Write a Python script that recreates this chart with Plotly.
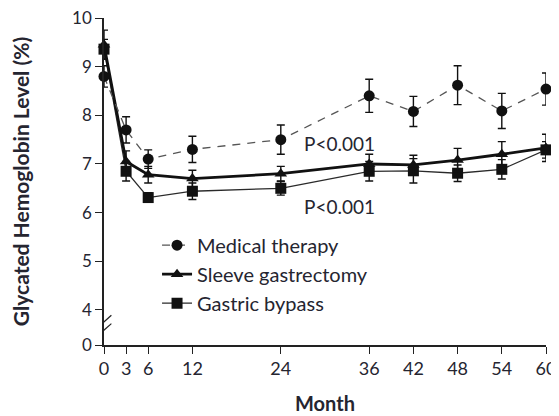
import plotly.graph_objects as go

months = [0, 3, 6, 12, 24, 36, 42, 48, 54, 60]
medical = [8.8, 7.7, 7.1, 7.3, 7.5, 8.4, 8.08, 8.62, 8.09, 8.54]
medical_err = [0.22, 0.27, 0.19, 0.27, 0.3, 0.34, 0.31, 0.4, 0.36, 0.33]
sleeve = [9.45, 7.05, 6.78, 6.7, 6.8, 7.0, 6.98, 7.08, 7.2, 7.33]
sleeve_err = [0.3, 0.22, 0.17, 0.17, 0.15, 0.2, 0.2, 0.24, 0.26, 0.28]
bypass = [9.36, 6.85, 6.31, 6.44, 6.5, 6.85, 6.86, 6.81, 6.89, 7.29]
bypass_err = [0.2, 0.2, 0.1, 0.17, 0.14, 0.2, 0.25, 0.17, 0.2, 0.17]

y_tickvals = [3.28, 4, 5, 6, 7, 8, 9, 10]
y_ticktext = ["0", "4", "5", "6", "7", "8", "9", "10"]
x_ticks = months

FONT = "Lato"
TXT = "#252530"

fig = go.Figure()

fig.add_trace(go.Scatter(
    x=months, y=bypass, name="Gastric bypass", mode="lines+markers",
    line=dict(color="#2a2a2a", width=1.3),
    marker=dict(symbol="square", size=11, color="#111"),
    error_y=dict(type="data", array=bypass_err, color="#111", thickness=1.4, width=4),
    cliponaxis=False, legendrank=3))
fig.add_trace(go.Scatter(
    x=months, y=sleeve, name="Sleeve gastrectomy", mode="lines+markers",
    line=dict(color="#111", width=2.8),
    marker=dict(symbol="triangle-up", size=11, color="#111"),
    error_y=dict(type="data", array=sleeve_err, color="#111", thickness=1.4, width=4),
    cliponaxis=False, legendrank=2))
fig.add_trace(go.Scatter(
    x=months, y=medical, name="Medical therapy", mode="lines+markers",
    line=dict(color="#555", width=1.3, dash="8px,7px"),
    marker=dict(symbol="circle", size=11, color="#111"),
    error_y=dict(type="data", array=medical_err, color="#111", thickness=1.4, width=4),
    cliponaxis=False, legendrank=1))

# axis break marks
for dy in (0.0, 0.17):
    fig.add_shape(type="line", xref="x", yref="y",
                  x0=-1.0, y0=3.45 + dy, x1=1.0, y1=3.72 + dy,
                  line=dict(color="#222", width=1.2))

fig.add_annotation(x=26.9, y=7.43, xref="x", yref="y", text="P<0.001",
                   showarrow=False, xanchor="left",
                   font=dict(family=FONT, size=19, color=TXT))
fig.add_annotation(x=26.9, y=6.12, xref="x", yref="y", text="P<0.001",
                   showarrow=False, xanchor="left",
                   font=dict(family=FONT, size=19, color=TXT))

# the page body adds an 8px offset, so the figure is 8px smaller and shifted
fig.update_layout(
    width=551, height=408,
    margin=dict(l=96, r=13, t=10, b=71),
    paper_bgcolor="white", plot_bgcolor="white",
    font=dict(family=FONT, size=17, color=TXT),
    showlegend=True,
    legend=dict(x=0.12, y=0.365, xanchor="left", yanchor="top",
                bgcolor="rgba(0,0,0,0)", font=dict(family=FONT, size=20, color=TXT),
                traceorder="normal", tracegroupgap=0),
    xaxis=dict(range=[0, 60], tickvals=x_ticks, ticks="outside", ticklen=7,
               tickwidth=1.4, tickcolor="#222", showline=True, linecolor="#222",
               linewidth=1.5, showgrid=False, zeroline=False, automargin=False,
               ticklabeloverflow="allow",
               tickfont=dict(family=FONT, size=18, color=TXT),
               title=dict(text="<b>Month</b>", font=dict(family=FONT, size=20, color=TXT),
                          standoff=19)),
    yaxis=dict(range=[3.28, 10], tickvals=y_tickvals, ticktext=y_ticktext,
               ticks="outside", ticklen=7, tickwidth=1.4, tickcolor="#222",
               showline=True, linecolor="#222", linewidth=1.5, showgrid=False,
               zeroline=False, automargin=False, ticklabeloverflow="allow",
               tickfont=dict(family=FONT, size=17, color=TXT),
               title=dict(text="<b>Glycated Hemoglobin Level (%)</b>",
                          font=dict(family=FONT, size=21, color=TXT), standoff=37)),
)

fig.write_html("out.html")
